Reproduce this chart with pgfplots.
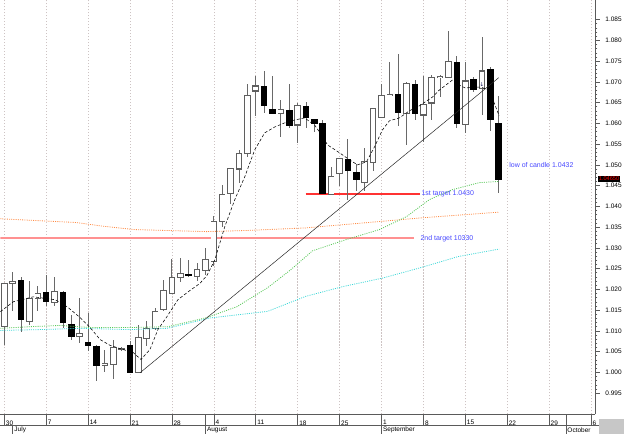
\documentclass[border=0pt]{standalone}
\usepackage{pgfplots}
\usepackage{pgfplotstable}
\pgfplotsset{compat=1.18}
\usepackage{fontspec}
\setmainfont{Liberation Sans}
\newfontfamily\symfont{DejaVu Sans}

\definecolor{wickc}{RGB}{105,105,105}
\definecolor{outl}{RGB}{95,95,95}
\definecolor{maorange}{RGB}{255,140,70}
\definecolor{magreen}{RGB}{90,200,90}
\definecolor{macyan}{RGB}{60,215,215}
\definecolor{lblblue}{RGB}{70,70,255}
\definecolor{tgtone}{RGB}{255,50,50}
\definecolor{tgttwo}{RGB}{255,145,145}
\definecolor{gridc}{RGB}{205,195,195}
\definecolor{sepc}{RGB}{90,90,90}

\newcommand\sm{\fontsize{6.5}{7.5}\selectfont}

% white (rising) candles: day index, open, close, high, low
\pgfplotstableread{
d o c h l
0 1.0111 1.0215 1.0216 1.0067
1 1.0215 1.0220 1.0241 1.0147
3 1.0123 1.0179 1.0219 1.0115
4 1.0179 1.0189 1.0209 1.0147
6 1.0169 1.0194 1.0231 1.0159
9 1.0087 1.0093 1.0179 1.0071
12 1.0017 1.0021 1.0055 1.0002
13 1.0019 1.0059 1.0079 0.9983
14 1.0056 1.0058 1.0062 1.0052
16 0.9999 1.0083 1.0113 0.9998
17 1.0081 1.0105 1.0123 1.0063
18 1.0105 1.0147 1.0155 1.0103
19 1.0151 1.0197 1.0223 1.0147
20 1.0191 1.0229 1.0274 1.0191
21 1.0229 1.0238 1.0275 1.0217
23 1.0231 1.0247 1.0263 1.0219
24 1.0246 1.0271 1.0300 1.0235
25 1.0266 1.0363 1.0376 1.0257
26 1.0363 1.0429 1.0452 1.0351
27 1.0432 1.0492 1.0493 1.0406
28 1.0490 1.0528 1.0536 1.0456
29 1.0528 1.0666 1.0696 1.0520
30 1.0678 1.0690 1.0714 1.0618
33 1.0624 1.0633 1.0656 1.0568
35 1.0596 1.0642 1.0649 1.0552
39 1.0429 1.0472 1.0496 1.0428
40 1.0480 1.0516 1.0517 1.0448
43 1.0457 1.0509 1.0540 1.0436
44 1.0505 1.0636 1.0637 1.0484
45 1.0614 1.0666 1.0696 1.0613
46 1.0666 1.0670 1.0748 1.0665
48 1.0624 1.0695 1.0699 1.0548
50 1.0620 1.0646 1.0714 1.0556
51 1.0649 1.0711 1.0716 1.0608
52 1.0710 1.0713 1.0716 1.0663
53 1.0710 1.0750 1.0822 1.0709
55 1.0598 1.0702 1.0748 1.0576
57 1.0684 1.0726 1.0808 1.0620
}\whitec

% black (falling) candles
\pgfplotstableread{
d o c h l
2 1.0222 1.0126 1.0231 1.0097
5 1.0193 1.0171 1.0235 1.0159
7 1.0194 1.0119 1.0196 1.0107
8 1.0117 1.0086 1.0139 1.0079
10 1.0073 1.0065 1.0143 1.0051
11 1.0062 1.0017 1.0067 0.9979
15 1.0065 0.9999 1.0075 0.9999
22 1.0236 1.0233 1.0271 1.0231
31 1.0690 1.0642 1.0726 1.0624
32 1.0635 1.0624 1.0714 1.0624
34 1.0632 1.0594 1.0695 1.0588
36 1.0642 1.0614 1.0652 1.0588
37 1.0610 1.0600 1.0611 1.0580
38 1.0600 1.0430 1.0608 1.0430
41 1.0513 1.0485 1.0562 1.0416
42 1.0481 1.0464 1.0502 1.0436
47 1.0670 1.0625 1.0768 1.0594
49 1.0694 1.0624 1.0704 1.0608
54 1.0748 1.0600 1.0762 1.0589
56 1.0707 1.0682 1.0711 1.0675
58 1.0731 1.0608 1.0736 1.0582
59 1.0600 1.0465 1.0666 1.0432
}\blackc

\begin{document}
\begin{tikzpicture}
\begin{axis}[
  at={(0,0)}, anchor=south west,
  width=596pt, height=415pt, scale only axis,
  xmin=-0.476, xmax=70.476, ymin=0.98988, ymax=1.08964,
  axis x line*=bottom, axis y line*=right,
  axis line style={draw=sepc, line width=0.6pt},
  xtick={0,5,10,15,20,25,30,35,40,45,50,55,60,65,70},
  xticklabels={30,7,14,21,28,4,11,18,25,1,8,15,22,29,6},
  xtick style={draw=none},
  xmajorgrids,
  major grid style={draw=gridc, dash pattern=on 1.2pt off 1.8pt, line width=0.5pt},
  xticklabel style={anchor=north west, inner sep=0pt, xshift=1.5pt, yshift=-1pt, font=\sm},
  ytick={0.995,1.000,1.005,1.010,1.015,1.020,1.025,1.030,1.035,1.040,1.045,1.050,1.055,1.060,1.065,1.070,1.075,1.080,1.085},
  minor y tick num=4,
  tick align=outside, major tick length=5pt, minor tick length=2.5pt,
  ytick style={draw=sepc, line width=0.5pt},
  yticklabel style={font=\sm, xshift=2pt, /pgf/number format/.cd, fixed, precision=3, fixed zerofill, assume math mode=true},
]
% target lines first (under the candles' outlines is fine)
\addplot[color=tgttwo, line width=2.2pt, forget plot] coordinates {(-0.48,1.0324) (48.9,1.0324)};
\addplot[color=tgtone, line width=1.6pt, forget plot] coordinates {(35.95,1.04296) (49.6,1.04296)};
% wicks
\addplot[draw=none, forget plot, error bars/.cd, y dir=both, y explicit, error mark=none,
  error bar style={solid, draw=wickc, line width=0.9pt}]
  table[x=d, y expr={(\thisrow{h}+\thisrow{l})/2}, y error expr={(\thisrow{h}-\thisrow{l})/2}] {\whitec};
\addplot[draw=none, forget plot, error bars/.cd, y dir=both, y explicit, error mark=none,
  error bar style={solid, draw=wickc, line width=0.9pt}]
  table[x=d, y expr={(\thisrow{h}+\thisrow{l})/2}, y error expr={(\thisrow{h}-\thisrow{l})/2}] {\blackc};
% white bodies: outline then fill
\addplot[draw=none, forget plot, error bars/.cd, y dir=both, y explicit, error mark=none,
  error bar style={solid, draw=outl, line width=6.6pt}]
  table[x=d, y expr={(\thisrow{o}+\thisrow{c})/2}, y error expr={abs(\thisrow{o}-\thisrow{c})/2+0.00013}] {\whitec};
\addplot[draw=none, forget plot, error bars/.cd, y dir=both, y explicit, error mark=none,
  error bar style={solid, draw=white, line width=4.8pt}]
  table[x=d, y expr={(\thisrow{o}+\thisrow{c})/2}, y error expr={max(abs(\thisrow{o}-\thisrow{c})/2-0.00013,0)}] {\whitec};
% black bodies
\addplot[draw=none, forget plot, error bars/.cd, y dir=both, y explicit, error mark=none,
  error bar style={solid, draw=black, line width=6.6pt}]
  table[x=d, y expr={(\thisrow{o}+\thisrow{c})/2}, y error expr={abs(\thisrow{o}-\thisrow{c})/2+0.00006}] {\blackc};

% long moving averages (dotted)
\addplot[color=maorange, line width=0.8pt, dash pattern=on 1pt off 1.2pt] coordinates {
(-0.48,1.0370) (8.57,1.0361) (11.43,1.0353) (15.48,1.0344) (24.17,1.0339) (29.17,1.0342)
(35.95,1.0348) (42.86,1.0360) (49.64,1.0372) (59.05,1.0386)};
\addplot[color=macyan, line width=0.8pt, dash pattern=on 1pt off 1.2pt] coordinates {
(-0.48,1.0101) (4.29,1.0103) (9.05,1.0106) (15.0,1.0103) (19.4,1.0106) (21.31,1.0115)
(24.52,1.0131) (31.43,1.0147) (35.95,1.0183) (40.48,1.0207) (45.12,1.0227) (49.64,1.0252)
(54.17,1.0279) (59.05,1.0297)};
\addplot[color=magreen, line width=0.8pt, dash pattern=on 1pt off 1.2pt] coordinates {
(-0.48,1.0106) (3.10,1.0110) (6.67,1.0113) (10.24,1.0108) (15.0,1.0108) (19.52,1.0110)
(24.17,1.0132) (27.74,1.0158) (31.43,1.0204) (34.17,1.0247) (36.79,1.0293) (40.83,1.0320)
(44.76,1.0344) (47.98,1.0375) (50.71,1.0416) (53.45,1.0440) (56.67,1.0457) (59.05,1.0460)};
% short moving average (dashed)
\addplot[color=black, line width=0.55pt, dash pattern=on 3pt off 2pt] coordinates {
(-0.48,1.0146) (1.07,1.0170) (3.45,1.0182) (6.07,1.0175) (7.5,1.0158) (9.05,1.0132)
(10.24,1.0108) (11.43,1.0079) (12.62,1.0065) (14.17,1.0055) (15.36,1.0048) (16.31,1.0031)
(17.38,1.0055) (18.33,1.0103) (19.40,1.0134) (20.71,1.0175) (22.14,1.0197) (23.33,1.0214)
(24.17,1.0233) (25.12,1.0271) (26.31,1.0351) (27.5,1.0416) (28.69,1.0471) (29.88,1.0536)
(31.07,1.0577) (32.26,1.0591) (33.45,1.0601) (34.64,1.0608) (35.83,1.0613) (37.02,1.0596)
(37.86,1.0572) (38.57,1.0548) (40.0,1.0529) (41.19,1.0512) (42.14,1.0500) (43.21,1.0507)
(44.17,1.0543) (45.12,1.0584) (45.95,1.0606) (47.14,1.0613) (48.33,1.0630) (49.52,1.0642)
(51.07,1.0663) (51.9,1.0680) (53.45,1.0704) (54.29,1.0692) (55.0,1.0685) (55.95,1.0687)
(56.9,1.0687) (57.86,1.0680) (59.05,1.0618)};
% trend line
\addplot[color=black!85, line width=0.5pt] coordinates {(16.2,0.9999) (59.0,1.0710)};

\node[anchor=west, inner sep=0pt, text=lblblue, font=\fontsize{7}{8}\selectfont] at (axis cs:49.76,1.0430) {1st target 1.0430};
\node[anchor=west, inner sep=0pt, text=lblblue, font=\fontsize{7}{8}\selectfont] at (axis cs:49.64,1.0322) {2nd target 10330};
\node[anchor=west, inner sep=0pt, text=lblblue, font=\fontsize{7}{8}\selectfont] at (axis cs:60.24,1.0500) {low of candle 1.0432};
\node[inner sep=0pt, text={rgb,255:red,20;green,20;blue,90}, font=\symfont\fontsize{5.5}{6}\selectfont] at (axis cs:57,1.0693) {↓};
\coordinate (tag) at (axis cs:70.476,1.0466);
\end{axis}
% price tag
\node[anchor=west, fill=black, text=red, inner xsep=0.8pt, inner ysep=0.6pt, font=\fontsize{5.6}{6}\selectfont, xshift=3pt] at (tag) {1.04650};
% date strip
\draw[sepc, line width=0.5pt] (0,-11pt) -- (600pt,-11pt);
\foreach \k in {0,...,14} {
  \draw[sepc, line width=0.5pt] ({(4+42*\k)*1pt},0) -- ({(4+42*\k)*1pt},-11pt);
}
\draw[sepc, line width=0.5pt] (12.4pt,-11pt) -- (12.4pt,-20pt);
\draw[sepc, line width=0.5pt] (205.6pt,0) -- (205.6pt,-20pt);
\draw[sepc, line width=0.5pt] (382pt,0) -- (382pt,-20pt);
\draw[sepc, line width=0.5pt] (566.8pt,0) -- (566.8pt,-20pt);
\node[anchor=west, inner sep=0pt, font=\sm] at (14pt,-15.5pt) {July};
\node[anchor=west, inner sep=0pt, font=\sm] at (207pt,-15.5pt) {August};
\node[anchor=west, inner sep=0pt, font=\sm] at (383.5pt,-15.5pt) {September};
\node[anchor=west, inner sep=0pt, font=\sm] at (568.3pt,-15.5pt) {October};
\fill[black!22] (600pt,-5pt) rectangle (625pt,-20pt);
\path[use as bounding box] (0,-20pt) rectangle (625pt,415pt);
\end{tikzpicture}
\end{document}
